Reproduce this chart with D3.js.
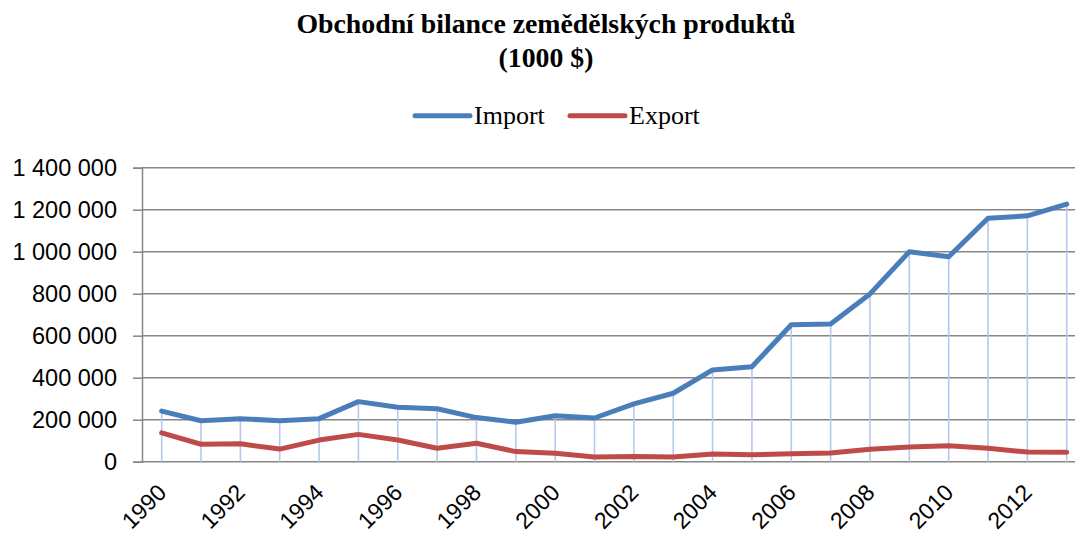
<!DOCTYPE html>
<html><head><meta charset="utf-8">
<script src="https://cdn.jsdelivr.net/npm/d3@7"></script>
<style>
html,body{margin:0;padding:0;background:#fff;}
svg{display:block;}
</style></head>
<body>
<svg id="chart" width="1075" height="533"></svg>
<script>
const years = [1990,1991,1992,1993,1994,1995,1996,1997,1998,1999,2000,2001,2002,2003,2004,2005,2006,2007,2008,2009,2010,2011,2012,2013];
const importValues = [241000,195000,205000,195000,205000,286000,259000,252000,210000,188000,219000,208000,275000,326000,437000,452000,652000,656000,799000,1000000,976000,1159000,1171000,1227000];
const exportValues = [137000,83000,85000,60000,103000,130000,103000,64000,88000,48000,40000,22000,25000,22000,37000,33000,38000,41000,59000,70000,76000,64000,46000,45000];
const yTicks = [0,200000,400000,600000,800000,1000000,1200000,1400000];
const xTickYears = [1990,1992,1994,1996,1998,2000,2002,2004,2006,2008,2010,2012];
const seriesNames = ["Import","Export"];
const titleLines = ["Obchodní bilance zemědělských produktů","(1000 $)"];

(function(){
const svg = d3.select("#chart");
const plotLeft = 142, bandW = 39.35, plotTop = 167.7, plotBottom = 461.7;
const x = d3.scaleBand().domain(years).range([plotLeft, plotLeft + years.length*bandW]).padding(0);
const cx = d => x(d) + x.bandwidth()/2;
const y = d3.scaleLinear().domain([0,1400000]).range([plotBottom, plotTop]);
const colors = {Import:"#4a7ebb", Export:"#be4b48"};
const fmt = v => d3.format(",")(v).replace(/,/g," ");

// gridlines
svg.append("g").selectAll("line").data(yTicks).join("line")
  .attr("x1", plotLeft).attr("x2", x.range()[1])
  .attr("y1", d=>y(d)).attr("y2", d=>y(d))
  .attr("stroke","#868686").attr("stroke-width",1.5);

// y axis
const yAxis = d3.axisLeft(y).tickValues(yTicks).tickFormat(fmt).tickSize(9).tickPadding(16);
const ga = svg.append("g").attr("transform",`translate(${plotLeft},0)`).call(yAxis);
ga.select(".domain").attr("stroke","#868686").attr("stroke-width",1.5);
ga.selectAll(".tick line").attr("stroke","#868686").attr("stroke-width",1.5);
ga.selectAll(".tick text").attr("font-family","'Liberation Sans', Arial, sans-serif").attr("font-size",23.5).attr("fill","#000");

// drop lines
const data = years.map((yr,i)=>({yr, imp:importValues[i], exp:exportValues[i]}));
svg.append("g").selectAll("line").data(data).join("line")
  .attr("x1", d=>cx(d.yr)).attr("x2", d=>cx(d.yr))
  .attr("y1", d=>y(d.imp)).attr("y2", plotBottom)
  .attr("stroke","#b4c9ee").attr("stroke-width",1.6);

// lines
const line = d3.line().x(d=>cx(d.yr)).y(d=>y(d.v));
[["Export",exportValues],["Import",importValues]].forEach(([name,vals])=>{
  svg.append("path").datum(years.map((yr,i)=>({yr, v:vals[i]})))
    .attr("d", line).attr("fill","none").attr("stroke", colors[name])
    .attr("stroke-width",5).attr("stroke-linejoin","round").attr("stroke-linecap","round");
});

// x labels
svg.append("g").selectAll("text").data(xTickYears).join("text")
  .attr("transform", d=>`translate(${cx(d)+6},${494}) rotate(-45)`)
  .attr("text-anchor","end")
  .attr("font-family","'Liberation Sans', Arial, sans-serif").attr("font-size",23)
  .text(d=>d);

// title
svg.append("g").selectAll("text").data(titleLines).join("text")
  .attr("x",546).attr("y",(d,i)=>33+i*34)
  .attr("text-anchor","middle")
  .attr("font-family","'Liberation Serif','Times New Roman',serif")
  .attr("font-weight","bold").attr("font-size",27.8)
  .text(d=>d);

// legend
const legPos = [{lx:415, tx:474},{lx:570, tx:629}];
seriesNames.forEach((name,i)=>{
  const g = svg.append("g");
  g.append("line").attr("x1",legPos[i].lx).attr("x2",legPos[i].lx+55)
    .attr("y1",115.7).attr("y2",115.7).attr("stroke",colors[name])
    .attr("stroke-width",5).attr("stroke-linecap","round");
  g.append("text").attr("x",legPos[i].tx).attr("y",123.5)
    .attr("font-family","'Liberation Serif','Times New Roman',serif")
    .attr("font-size",26).text(name);
});
})();
</script>
</body></html>
